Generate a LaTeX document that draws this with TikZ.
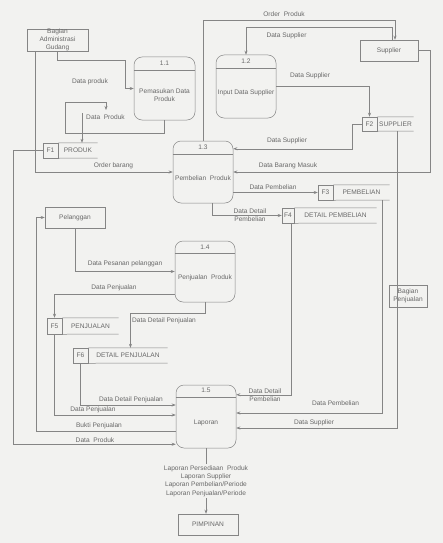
\documentclass[tikz,border=0pt]{standalone}
\usepackage{fontspec}
\setmainfont{Liberation Sans}
\usetikzlibrary{arrows.meta, positioning, calc}
\definecolor{kertas}{HTML}{F2F2F0}
\definecolor{garisabu}{HTML}{858585}
\definecolor{teksabu}{HTML}{686868}

\begin{document}
\begin{tikzpicture}[
    x=1pt, y=-1pt,
    font=\fontsize{6.6}{8}\selectfont, text=teksabu,
    entitas/.style={draw=garisabu, line width=0.5pt, minimum width=60pt, minimum height=21pt, inner sep=0pt, align=center},
    proses/.style={draw=garisabu, line width=0.5pt, rounded corners=8pt, minimum width=60pt, minimum height=63pt, inner sep=0pt},
    kode/.style={draw=garisabu, line width=0.5pt, minimum width=15pt, minimum height=15pt, inner sep=0pt},
    nama/.style={minimum height=15pt, inner sep=0pt},
    teks/.style={inner sep=0pt, align=center},
    garis/.style={draw=garisabu, line width=0.5pt},
    alur/.style={draw=garisabu, line width=0.5pt, -{Stealth[length=4pt, width=3pt]}}
  ]
    \fill[kertas] (0,0) rectangle (443,543);
    \useasboundingbox (0,0) rectangle (443,543);

    % Entitas luar
    \node[entitas, minimum width=61pt, minimum height=22pt] (Gudang) at (57.5,40) {Bagian\\Administrasi\\Gudang};
    \node[entitas, minimum width=58pt] (Supplier) at (389,50.5) {Supplier};
    \node[entitas] (Pelanggan) at (75,217.5) {Pelanggan};
    \node[entitas, minimum width=38pt, minimum height=22pt] (BagPenjualan) at (408,296) {Bagian\\Penjualan};
    \node[entitas] (Pimpinan) at (208,524.5) {PIMPINAN};

    % Proses 1.1
    \node[proses, minimum width=61pt] (P11) at (164.5,88.5) {};
    \draw[garis] ($(P11.north west)+(0,13)$) -- ($(P11.north east)+(0,13)$);
    \node[teks] (P11no) at ($(P11.north)+(0,6.5)$) {1.1};
    \node[teks] (P11tx) at ($(P11.center)+(0,6.5)$) {Pemasukan Data\\Produk};

    % Proses 1.2
    \node[proses] (P12) at (246,86.5) {};
    \draw[garis] ($(P12.north west)+(0,13)$) -- ($(P12.north east)+(0,13)$);
    \node[teks] (P12no) at ($(P12.north)+(0,6.5)$) {1.2};
    \node[teks] (P12tx) at ($(P12.center)+(0,6.5)$) {Input Data Supplier};

    % Proses 1.3
    \node[proses, minimum height=62pt] (P13) at (203,172) {};
    \draw[garis] ($(P13.north west)+(0,13)$) -- ($(P13.north east)+(0,13)$);
    \node[teks] (P13no) at ($(P13.north)+(0,6.5)$) {1.3};
    \node[teks] (P13tx) at ($(P13.center)+(0,6.5)$) {Pembelian\ \ Produk};

    % Proses 1.4
    \node[proses, minimum height=61pt] (P14) at (205,271.5) {};
    \draw[garis] ($(P14.north west)+(0,12)$) -- ($(P14.north east)+(0,12)$);
    \node[teks] (P14no) at ($(P14.north)+(0,6)$) {1.4};
    \node[teks] (P14tx) at ($(P14.center)+(0,6.5)$) {Penjualan\ \ Produk};

    % Proses 1.5
    \node[proses] (P15) at (206,416.5) {};
    \draw[garis] ($(P15.north west)+(0,12)$) -- ($(P15.north east)+(0,12)$);
    \node[teks] (P15no) at ($(P15.north)+(0,6)$) {1.5};
    \node[teks] (P15tx) at ($(P15.center)+(0,6.5)$) {Laporan};

    % Data store
    \node[kode] (F1) at (50.5,150.5) {F1};
    \node[nama, minimum width=39pt, right=0pt of F1] (F1n) {PRODUK};
    \draw[garis] (F1.north east) -- (F1n.north east) (F1.south east) -- (F1n.south east);

    \node[kode, minimum height=14pt] (F2) at (369.5,124) {F2};
    \node[nama, minimum height=14pt, minimum width=36pt, right=0pt of F2] (F2n) {SUPPLIER};
    \draw[garis] (F2.north east) -- (F2n.north east) (F2.south east) -- (F2n.south east);

    \node[kode] (F3) at (325.5,192.5) {F3};
    \node[nama, minimum width=56pt, right=0pt of F3] (F3n) {PEMBELIAN};
    \draw[garis] (F3.north east) -- (F3n.north east) (F3.south east) -- (F3n.south east);

    \node[kode, minimum width=12pt] (F4) at (288,215.5) {F4};
    \node[nama, minimum width=82pt, right=0pt of F4] (F4n) {DETAIL PEMBELIAN};
    \draw[garis] (F4.north east) -- (F4n.north east) (F4.south east) -- (F4n.south east);

    \node[kode, minimum height=16pt] (F5) at (54.5,326) {F5};
    \node[nama, minimum height=16pt, minimum width=56pt, right=0pt of F5] (F5n) {PENJUALAN};
    \draw[garis] (F5.north east) -- (F5n.north east) (F5.south east) -- (F5n.south east);

    \node[kode] (F6) at (80.5,355.5) {F6};
    \node[nama, minimum width=79pt, right=0pt of F6] (F6n) {DETAIL PENJUALAN};
    \draw[garis] (F6.north east) -- (F6n.north east) (F6.south east) -- (F6n.south east);

    % Alur data gudang
    \draw[alur] (Gudang.south) -- ++(0,9) -| ($(P11.west)+(-9,0)$) -- (P11.west);
    \node[teks] (lProduk1) at (90,82) {Data produk};
    \draw[alur] ($(Gudang.south west)+(8,0)$) |- (P13.west);
    \node[teks] (lOrderBarang) at (113.5,165.5) {Order barang};

    \coordinate (dp0) at (106,110);
    \coordinate (dp1) at (82,113);
    \draw[alur] (P11.south) -- ++(0,13) -| ++(-99,-31) -| (dp0);
    \draw[alur] (dp1) -- (dp1 |- F1n.north);
    \node[teks] (lProduk2) at (105.5,117) {Data\ \ Produk};

    % Alur supplier
    \draw[alur] (P13.north) |- ($(Supplier.north)+(6,-19)$) -- ($(Supplier.north)+(6,0)$);
    \node[teks] (lOrderProduk) at (284,14.5) {Order\ \ Produk};
    \draw[alur] ($(Supplier.north)+(3,0)$) |- ($(P12.north)+(0,-27)$) -- (P12.north);
    \node[teks] (lSupplier1) at (286.5,35.5) {Data Supplier};
    \draw[alur] (P12.east) -| (F2.north);
    \node[teks] (lSupplier2) at (310,76) {Data Supplier};
    \draw[alur] (F2.west) -- ++(-10,0) |- ($(P13.north east)+(0,8)$);
    \node[teks] (lSupplier3) at (287,141) {Data Supplier};
    \draw[alur] (Supplier.east) -- ++(12,0) |- (P13.east);
    \node[teks] (lBarangMasuk) at (288,165.5) {Data Barang Masuk};

    % Alur pembelian
    \draw[alur] (P13.east |- F3.west) -- (F3.west);
    \node[teks] (lPembelian1) at (273,187) {Data Pembelian};
    \draw[alur] ($(P13.south)+(9,0)$) |- (F4.west);
    \node[teks] (lDetBeli1) at (250,215.5) {Data Detail\\Pembelian};

    % Alur penjualan
    \draw[alur] (Pelanggan.south) |- (P14.west);
    \node[teks] (lPesanan) at (125,264) {Data Pesanan pelanggan};
    \draw[alur] ($(P14.south west)+(0,-8)$) -| (F5.north);
    \node[teks] (lPenjualan1) at (114,288) {Data Penjualan};
    \draw[alur] (P14.south) -- ++(0,11) -| ($(F6n.north)+(2.5,0)$);
    \node[teks] (lDetJual1) at (164,321) {Data Detail Penjualan};

    % Alur ke laporan
    \draw[alur] (F6.south) |- ($(P15.west)+(0,-11.5)$);
    \node[teks] (lDetJual2) at (131,400) {Data Detail Penjualan};
    \draw[alur] (F5.south) |- ($(P15.west)+(0,-1.5)$);
    \node[teks] (lPenjualan2) at (93,410) {Data Penjualan};
    \draw[alur] ($(P15.west)+(0,14.5)$) -| ($(Pelanggan.west)+(-9,0)$) -- (Pelanggan.west);
    \node[teks] (lBukti) at (99,426) {Bukti Penjualan};
    \draw[alur] (F1.west) -- ++(-30,0) |- ($(P15.south west)+(0,-4)$);
    \node[teks] (lProduk3) at (95,440) {Data\ \ Produk};

    \draw[alur] ($(F4.south)+(3,0)$) |- ($(P15.north east)+(0,10)$);
    \node[teks] (lDetBeli2) at (265,395.5) {Data Detail\\Pembelian};
    \draw[alur] ($(F3n.south)+(21,0)$) |- ($(P15.east)+(0,-3.5)$);
    \node[teks] (lPembelian2) at (335.5,403) {Data Pembelian};
    \draw[alur] ($(F2n.south west)+(20,0)$) |- ($(P15.east)+(0,11.5)$);
    \node[teks] (lSupplier4) at (314,423) {Data Supplier};

    % Laporan ke pimpinan
    \draw[alur] (P15.south) -- node[teks, fill=kertas, inner sep=1pt, font=\fontsize{6.6}{8.3}\selectfont] (lLaporan) {Laporan Persediaan\ \ Produk\\Laporan Supplier\\Laporan Pembelian/Periode\\Laporan Penjualan/Periode} (P15.south |- Pimpinan.north);

  \end{tikzpicture}
\end{document}
